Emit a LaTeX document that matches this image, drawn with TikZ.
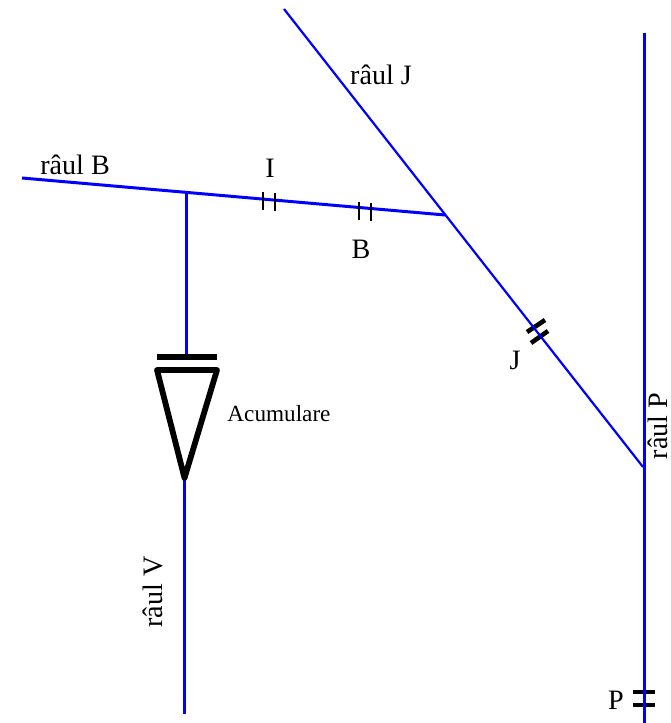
\documentclass[tikz,border=0pt]{standalone}
\usepackage{fontspec}
\setmainfont{Liberation Serif}
\usetikzlibrary{calc}

\tikzset{
  river/.style={draw=blue,line width=1.25pt},
  riverthick/.style={draw=blue,line width=1.7pt},
  gauge/.style={draw=black,line width=1.3pt},
  dam/.style={draw=black,line width=3.3pt,line join=round},
  damsmall/.style={draw=black,line width=2.6pt},
  lbl/.style={font=\fontsize{16}{18}\selectfont,inner sep=0pt},
}

\begin{document}
\begin{tikzpicture}[x=0.02cm,y=-0.02cm]
        \useasboundingbox (0,0) rectangle (670,723);

        \coordinate (Jtop) at (284,9);
        \coordinate (Jbot) at (643,467);
        \coordinate (Btop) at (22,178);
        \coordinate (Bbot) at (445,215);
        \coordinate (Vup) at (186.5,192);
        \coordinate (Vlow) at (184.5,478);
        \coordinate (Vend) at (184.5,714);
        \coordinate (Ptop) at (644,33);
        \coordinate (Pend) at (644,723);
        \coordinate (barL) at (157,357);
        \coordinate (barR) at (217,357);
        \coordinate (triL) at (157,370);
        \coordinate (triR) at (217,370);

        % gauges under the rivers
        \draw[damsmall] (527,332)--(545,320);
        \draw[damsmall] (531,343)--(548,331);
        \draw[damsmall] (633,692)--(655,692);
        \draw[damsmall] (633,705)--(655,705);

        % rivers
        \draw[river] (Jtop)--(Jbot);
        \draw[riverthick] (Btop)--(Bbot);
        \draw[riverthick] (Vup)--(Vup|-barL);
        \draw[riverthick] (Vlow)--(Vend);
        \draw[riverthick] (Ptop)--(Pend);

        % reservoir
        \draw[dam] (barL)--(barR);
        \draw[dam] (triL)--(triR)--(Vlow)--cycle;

        % gauges
        \foreach \gx/\gy in {263/192,275/193,359/202,371/203}
            \draw[gauge] (\gx,\gy)--(\gx,\gy+18);

        % labels
        \node[lbl] (labelJ) at (381,75) {râul J};
        \node[lbl] (labelB) at (75,165) {râul B};
        \node[lbl] (gaugeI) at (270,168) {I};
        \node[lbl] (gaugeB) at (361,249) {B};
        \node[lbl] (gaugeJ) at (515,360) {J};
        \node[lbl] (gaugeP) at (616,700) {P};
        \node[lbl,font=\fontsize{13.2}{16}\selectfont] (acum) at (279,414) {Acumulare};
        \node[lbl,rotate=90] (labelV) at (153,592) {râul V};
        \node[lbl,rotate=90] (labelP) at (658,426) {râul P};
\end{tikzpicture}
\end{document}
